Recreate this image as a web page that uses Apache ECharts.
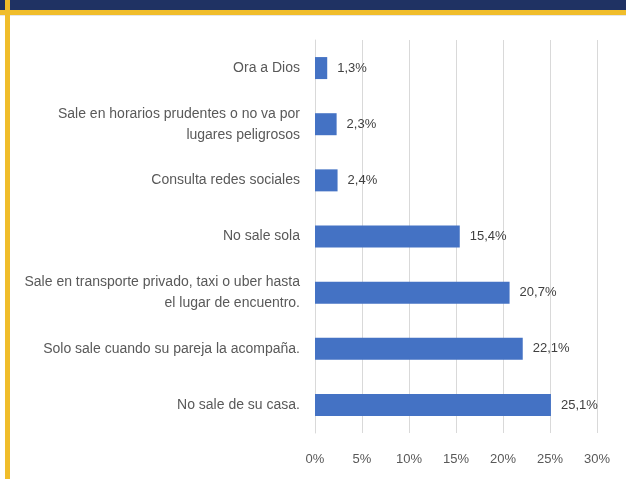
<!DOCTYPE html>
<html>
<head>
<meta charset="utf-8">
<script src="https://cdn.jsdelivr.net/npm/echarts@6/dist/echarts.min.js"></script>
<style>html,body{margin:0;padding:0;background:#fff;}#c{width:626px;height:479px;}</style>
</head>
<body>
<div id="c"></div>
<script>
var categories = [
  'Ora a Dios',
  'Sale en horarios prudentes o no va por\nlugares peligrosos',
  'Consulta redes sociales',
  'No sale sola',
  'Sale en transporte privado, taxi o uber hasta\nel lugar de encuentro.',
  'Solo sale cuando su pareja la acompaña.',
  'No sale de su casa.'
];
var values = [1.3, 2.3, 2.4, 15.4, 20.7, 22.1, 25.1];
var ticks = [0, 5, 10, 15, 20, 25, 30];

var FONT = '"Liberation Sans", Arial, sans-serif';
var chart = echarts.init(document.getElementById('c'));
chart.setOption({
  animation: false,
  backgroundColor: '#ffffff',
  grid: { left: 315, right: 29, top: 40, bottom: 46 },
  xAxis: {
    type: 'value', min: ticks[0], max: ticks[ticks.length - 1], interval: 5,
    axisLine: { show: false }, axisTick: { show: false },
    splitLine: { show: true, lineStyle: { color: '#d9d9d9', width: 1 } },
    axisLabel: { formatter: '{value}%', color: '#595959', fontFamily: FONT, fontSize: 13, margin: 20 }
  },
  yAxis: {
    type: 'category', data: categories, inverse: true,
    axisLine: { show: true, lineStyle: { color: '#d9d9d9' } },
    axisTick: { show: false },
    axisLabel: { color: '#595959', fontFamily: FONT, fontSize: 14, lineHeight: 21, margin: 15, align: 'right' }
  },
  series: [{
    type: 'bar', data: values, barWidth: 22,
    itemStyle: { color: '#4472c4' },
    label: {
      show: true, position: 'right', distance: 10,
      color: '#404040', fontFamily: FONT, fontSize: 13,
      formatter: function (p) { return p.value.toFixed(1).replace('.', ',') + '%'; }
    }
  }],
  graphic: [
    { type: 'rect', shape: { x: 0, y: 0, width: 626, height: 10 }, style: { fill: '#1f3263' } },
    { type: 'rect', shape: { x: 0, y: 10, width: 626, height: 5 }, style: { fill: '#f0bd2b' } },
    { type: 'rect', shape: { x: 0, y: 15, width: 626, height: 1 }, style: { fill: '#e6e6e6' } },
    { type: 'rect', shape: { x: 5, y: 0, width: 5, height: 479 }, style: { fill: '#f0bd2b' } }
  ]
});
</script>
</body>
</html>
